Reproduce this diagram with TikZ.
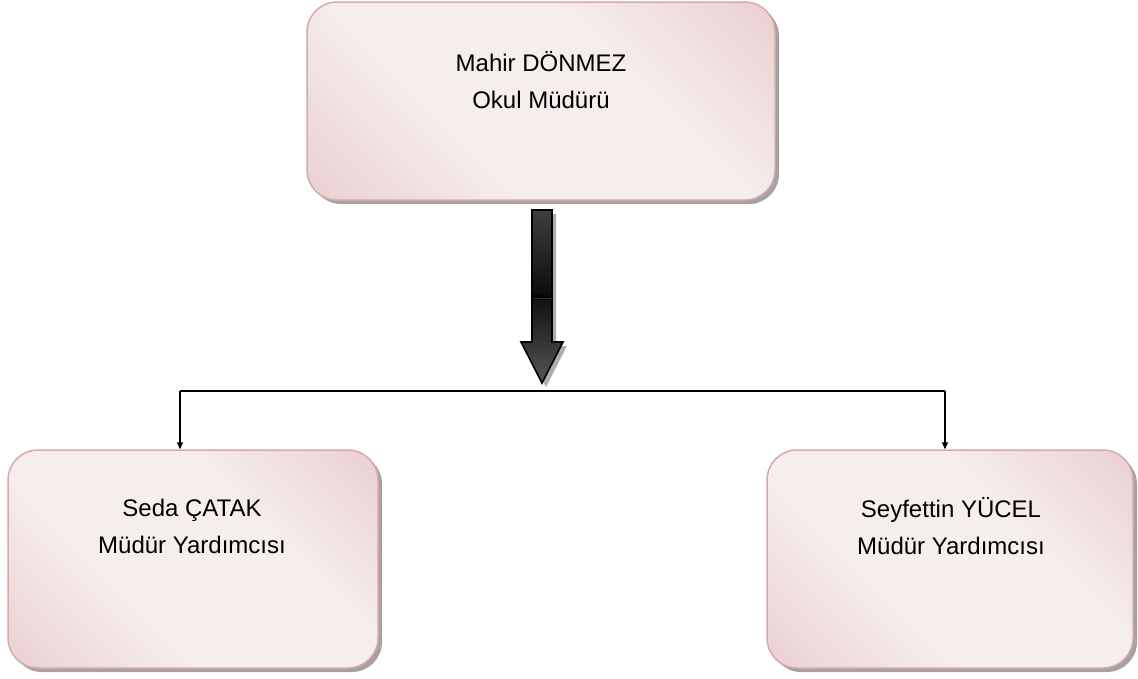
\documentclass[tikz,border=0pt]{standalone}
\usepackage{fontspec}
\setmainfont{Liberation Sans}
\usetikzlibrary{shadows,arrows.meta,calc}
\definecolor{pkdark}{HTML}{E2BDC1}
\definecolor{pklight}{HTML}{F6EDED}
\definecolor{pkborder}{HTML}{D9A8AF}
\pgfdeclarehorizontalshading{boxshade}{100bp}{color(0bp)=(pkdark); color(38bp)=(pklight); color(62bp)=(pklight); color(100bp)=(pkdark)}
\pgfdeclareverticalshading{arrowshade}{100bp}{color(0bp)=(black!62); color(25bp)=(black!66); color(49bp)=(black!93); color(50bp)=(black); color(51bp)=(black!95); color(100bp)=(black!55)}
\begin{document}
\begin{tikzpicture}[x=1pt,y=-1pt,
  orgbox/.style={draw=pkborder, line width=1.5pt, rounded corners=30pt, shading=boxshade, shading angle=45,
    drop shadow={shadow xshift=4pt, shadow yshift=-4pt, fill=black!45, opacity=0.8}, inner sep=0pt},
  orgtext/.style={font=\fontsize{24}{37}\selectfont, align=center, text=black},
  drop/.style={line width=1.3pt, -{Triangle[length=7pt,width=6pt]}}]
\useasboundingbox (0,0) rectangle (1138,678);
% boxes
\node[orgbox, minimum width=468pt, minimum height=198pt] (top) at (541,101) {};
\node[orgbox, minimum width=370pt, minimum height=218pt] (left) at (193,559) {};
\node[orgbox, minimum width=366pt, minimum height=218pt] (right) at (950,559) {};
% texts
\node[orgtext] (toptext) at (541,80) {Mahir DÖNMEZ\\Okul Müdürü};
\node[orgtext] (lefttext) at (192,526) {Seda ÇATAK\\Müdür Yardımcısı};
\node[orgtext] (righttext) at (951,526) {Seyfettin YÜCEL\\Müdür Yardımcısı};
% block arrow
\coordinate (atop) at (542,210);
\coordinate (bus) at (542,391);
\fill[black!40, opacity=0.8] ($(atop)+(-6,4)$) -- ($(atop)+(14,4)$) -- ($(atop)+(14,136)$) -- ($(atop)+(25,136)$) -- ($(atop)+(4,177)$) -- ($(atop)+(-17,136)$) -- ($(atop)+(-6,136)$) -- cycle;
\draw[line width=1.6pt, shading=arrowshade, line join=miter] ($(atop)+(-10,0)$) -- ($(atop)+(10,0)$) -- ($(atop)+(10,132)$) -- ($(atop)+(21,132)$) -- ($(atop)+(0,173)$) -- ($(atop)+(-21,132)$) -- ($(atop)+(-10,132)$) -- cycle;
\draw[black!80, line width=0.8pt] ($(atop)+(-9,88)$) -- ($(atop)+(9,88)$);
% connectors
\coordinate (jl) at (180,391);
\coordinate (jr) at (945,391);
\draw[line width=1.3pt] (jl) -- (jr);
\draw[drop] (jl) -- (jl |- left.north);
\draw[drop] (jr) -- (jr |- right.north);
\end{tikzpicture}
\end{document}
